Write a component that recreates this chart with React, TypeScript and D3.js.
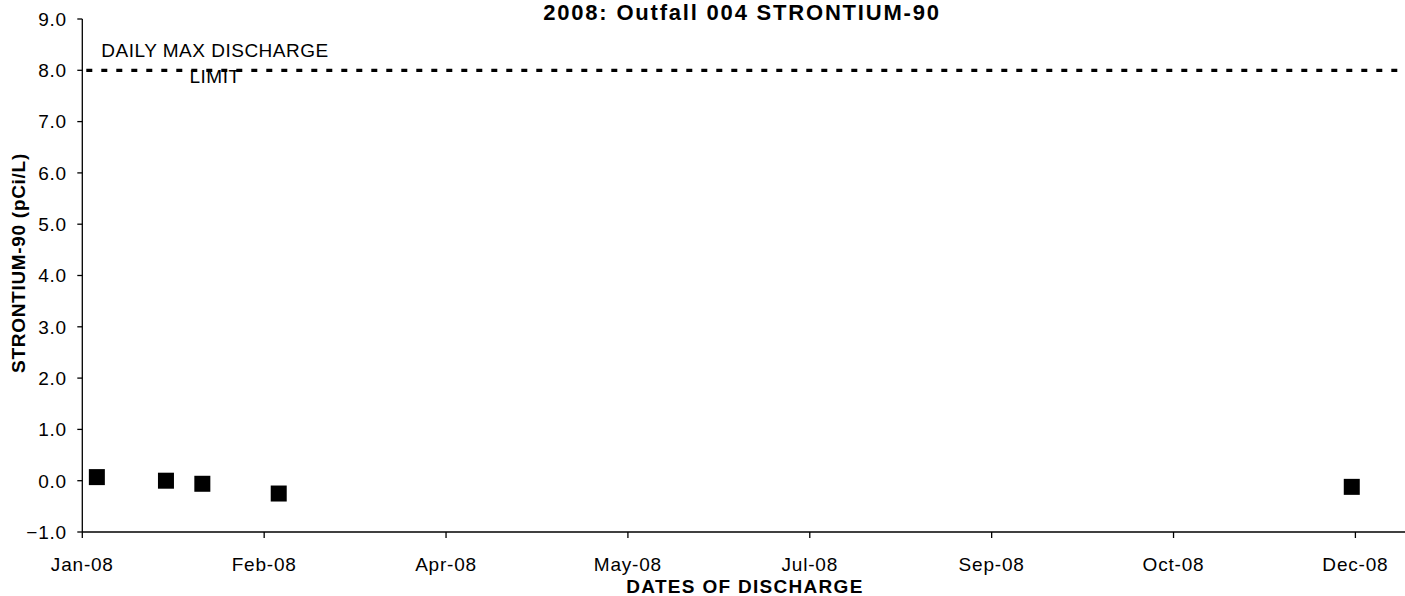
import * as d3 from "d3";

// sample dates and Sr-90 results
const sampleDates = ["2008-01-05", "2008-01-24", "2008-02-03", "2008-02-24", "2008-12-15"];
const sr90Values = [0.07, 0.0, -0.06, -0.25, -0.12];

// axis ticks (Excel date axis, 50 day major unit)
const yTicks = [-1, 0, 1, 2, 3, 4, 5, 6, 7, 8, 9];
const xTickDays = [0, 50, 100, 150, 200, 250, 300, 350];
const limitValue = 8.0;
const limitLabel = ["DAILY MAX DISCHARGE", "LIMIT"];

const width = 1405;
const height = 596;

const parse = d3.timeParse("%Y-%m-%d");
const start = parse("2008-01-01") as Date;

const App = () => {
    const x = d3.scaleTime()
        .domain([start, parse("2009-01-01") as Date])
        .range([82.3, 1413.6]);

    const y = d3.scaleLinear()
        .domain([-1, 9])
        .range([532, 19]);

    const fmt = d3.timeFormat("%b-%y");
    const xTicks = xTickDays.map(d => d3.timeDay.offset(start, d));
    const font = "Liberation Sans, Arial, sans-serif";
    const x0 = x.range()[0];
    const yBase = y(-1);

    return (
        <svg width={width} height={height} style={{ position: "absolute", left: 0, top: 0, background: "#fff" }}
            fontFamily={font}>
            {/* title */}
            <text x={742} y={20} textAnchor="middle" fontWeight="bold" fontSize={22} letterSpacing={1.8}>
                2008: Outfall 004 STRONTIUM-90
            </text>

            {/* limit line */}
            <line x1={x0} x2={width} y1={y(limitValue)} y2={y(limitValue)}
                stroke="#000" strokeWidth={3.2} strokeDasharray="6,9" strokeDashoffset={-4} />
            {limitLabel.map((t, i) => (
                <text key={t} x={215} y={57 + i * 26} textAnchor="middle" fontSize={19} letterSpacing={0.5}>{t}</text>
            ))}

            {/* y axis */}
            <line x1={x0} x2={x0} y1={y(9)} y2={yBase} stroke="#000" strokeWidth={1.3} />
            {yTicks.map(t => (
                <g key={t}>
                    <line x1={x0 - 5} x2={x0} y1={y(t)} y2={y(t)} stroke="#000" strokeWidth={1.3} />
                    <text x={67} y={y(t) + 6.8} textAnchor="end" fontSize={19} letterSpacing={0.8}>
                        {d3.format(".1f")(t)}
                    </text>
                </g>
            ))}
            <text transform={`translate(25,263) rotate(-90)`} textAnchor="middle" fontWeight="bold"
                fontSize={19} letterSpacing={0.7}>
                STRONTIUM-90 (pCi/L)
            </text>

            {/* x axis */}
            <line x1={x0} x2={width} y1={yBase} y2={yBase} stroke="#000" strokeWidth={1.3} />
            {xTicks.map(d => (
                <g key={+d}>
                    <line x1={x(d)} x2={x(d)} y1={yBase} y2={yBase + 6} stroke="#000" strokeWidth={1.3} />
                    <text x={x(d)} y={570.7} textAnchor="middle" fontSize={19} letterSpacing={0.8}>{fmt(d)}</text>
                </g>
            ))}
            <text x={745} y={593} textAnchor="middle" fontWeight="bold" fontSize={19} letterSpacing={1.3}>
                DATES OF DISCHARGE
            </text>

            {/* samples */}
            {sampleDates.map((s, i) => {
                const cx = x(parse(s) as Date);
                const cy = y(sr90Values[i]);
                return <rect key={s} x={cx - 8} y={cy - 8} width={16} height={16} fill="#000" />;
            })}
        </svg>
    );
};

export default App;
